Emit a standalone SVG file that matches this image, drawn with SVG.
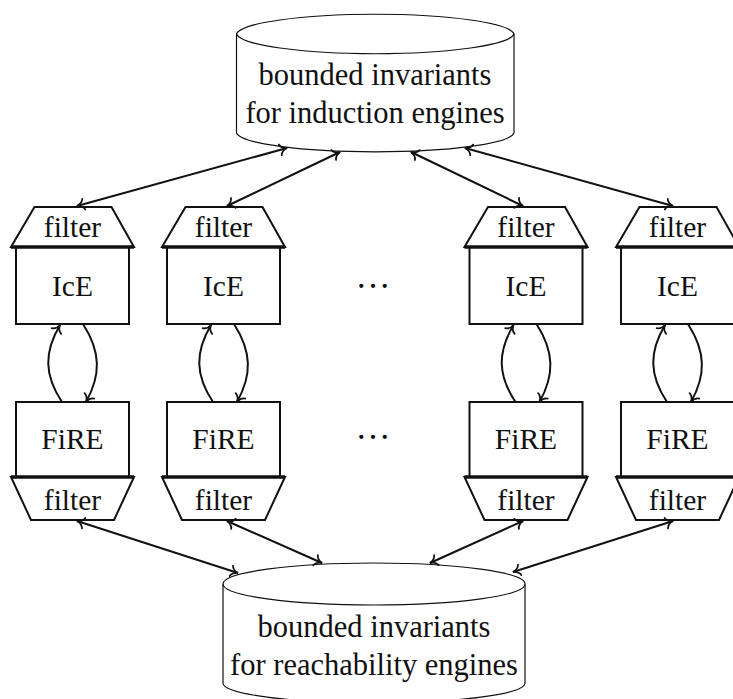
<svg xmlns="http://www.w3.org/2000/svg" width="733" height="699" viewBox="0 0 733 699">
<style>
.t{font-family:"Liberation Serif","Times New Roman",serif;fill:#111;text-anchor:middle}
.big{font-size:30.5px}
.mid{font-size:29.5px}
.cyl{fill:#fff;stroke:#111;stroke-width:1.2}
.box{fill:#fff;stroke:#111;stroke-width:2}
.thick{stroke:#111;stroke-width:3.6}
.c{fill:none;stroke:#111;stroke-width:2}
</style>
<defs>
<marker id="ah" markerUnits="userSpaceOnUse" markerWidth="16" markerHeight="16" viewBox="-9 -8 11 16" refX="0" refY="0" orient="auto-start-reverse">
<path d="M -7,-5.5 C -6,-2.2 -2.5,-0.5 0,0 C -2.5,0.5 -6,2.2 -7,5.5" fill="none" stroke="#111" stroke-width="1.8" stroke-linecap="round"/>
</marker>
</defs>
<rect width="733" height="699" fill="#fff"/>

<g id="top-store">
<path class="cyl" d="M 236.5,34 A 139,21 0 0 1 514,34 L 514,133 A 139,20 0 0 1 236.5,133 Z"/>
<path class="cyl" d="M 236.5,34 A 139,21 0 0 0 514,34" fill="none"/>
<text class="t big" x="375" y="85">bounded invariants</text>
<text class="t big" x="375" y="123">for induction engines</text>
</g>

<g id="bottom-store">
<path class="cyl" d="M 223,584 A 151,21 0 0 1 525,584 L 525,683 A 151,20 0 0 1 223,683 Z"/>
<path class="cyl" d="M 223,584 A 151,21 0 0 0 525,584" fill="none"/>
<text class="t big" x="374" y="637">bounded invariants</text>
<text class="t big" x="374" y="675">for reachability engines</text>
</g>

<g id="col1">
<g id="filter-top-1"><polygon class="box" points="34.5,207 111.5,207 134,247 11,247"/><text class="t mid" x="72.5" y="237">filter</text></g>
<g id="ice-1"><rect class="box" x="16" y="247" width="113" height="77"/><line class="thick" x1="11" y1="247" x2="134" y2="247"/><text class="t mid" x="72.5" y="296">IcE</text></g>
<g id="fire-1"><rect class="box" x="16" y="402" width="113" height="75"/><text class="t mid" x="72.5" y="449">FiRE</text></g>
<g id="filter-bot-1"><polygon class="box" points="11,477 134,477 114,520 31,520"/><line class="thick" x1="11" y1="477" x2="134" y2="477"/><text class="t mid" x="72.5" y="510">filter</text></g>
</g>

<g id="col2">
<g id="filter-top-2"><polygon class="box" points="185.5,207 262.5,207 285,247 162,247"/><text class="t mid" x="223.5" y="237">filter</text></g>
<g id="ice-2"><rect class="box" x="167" y="247" width="113" height="77"/><line class="thick" x1="162" y1="247" x2="285" y2="247"/><text class="t mid" x="223.5" y="296">IcE</text></g>
<g id="fire-2"><rect class="box" x="167" y="402" width="113" height="75"/><text class="t mid" x="223.5" y="449">FiRE</text></g>
<g id="filter-bot-2"><polygon class="box" points="162,477 285,477 265,520 182,520"/><line class="thick" x1="162" y1="477" x2="285" y2="477"/><text class="t mid" x="223.5" y="510">filter</text></g>
</g>

<g id="col3">
<g id="filter-top-3"><polygon class="box" points="488,207 565,207 587.5,247 464.5,247"/><text class="t mid" x="526" y="237">filter</text></g>
<g id="ice-3"><rect class="box" x="469.5" y="247" width="113" height="77"/><line class="thick" x1="464.5" y1="247" x2="587.5" y2="247"/><text class="t mid" x="526" y="296">IcE</text></g>
<g id="fire-3"><rect class="box" x="469.5" y="402" width="113" height="75"/><text class="t mid" x="526" y="449">FiRE</text></g>
<g id="filter-bot-3"><polygon class="box" points="464.5,477 587.5,477 567.5,520 484.5,520"/><line class="thick" x1="464.5" y1="477" x2="587.5" y2="477"/><text class="t mid" x="526" y="510">filter</text></g>
</g>

<g id="col4">
<g id="filter-top-4"><polygon class="box" points="639.5,207 716.5,207 739,247 616,247"/><text class="t mid" x="677.5" y="237">filter</text></g>
<g id="ice-4"><rect class="box" x="621" y="247" width="113" height="77"/><line class="thick" x1="616" y1="247" x2="739" y2="247"/><text class="t mid" x="677.5" y="296">IcE</text></g>
<g id="fire-4"><rect class="box" x="621" y="402" width="113" height="75"/><text class="t mid" x="677.5" y="449">FiRE</text></g>
<g id="filter-bot-4"><polygon class="box" points="616,477 739,477 719,520 636,520"/><line class="thick" x1="616" y1="477" x2="739" y2="477"/><text class="t mid" x="677.5" y="510">filter</text></g>
</g>

<g id="dots">
<text class="t" style="font-size:35px" x="373" y="288">…</text>
<text class="t" style="font-size:35px" x="373" y="439">…</text>
</g>

<g id="connectors" class="c">
<path class="c" d="M 77,206 L 287,148" marker-start="url(#ah)" marker-end="url(#ah)"/>
<path class="c" d="M 227,206 L 340,152" marker-start="url(#ah)" marker-end="url(#ah)"/>
<path class="c" d="M 523,206 L 411,152" marker-start="url(#ah)" marker-end="url(#ah)"/>
<path class="c" d="M 673,206 L 465,148" marker-start="url(#ah)" marker-end="url(#ah)"/>

<path class="c" d="M 77,521 L 238,573" marker-start="url(#ah)" marker-end="url(#ah)"/>
<path class="c" d="M 227,521 L 322,563" marker-start="url(#ah)" marker-end="url(#ah)"/>
<path class="c" d="M 523,521 L 430,563" marker-start="url(#ah)" marker-end="url(#ah)"/>
<path class="c" d="M 673,521 L 513,572" marker-start="url(#ah)" marker-end="url(#ah)"/>

<path class="c" d="M 62,402 C 44,375 44,352 60,325" marker-end="url(#ah)"/>
<path class="c" d="M 83,324 C 101,352 101,375 86,402" marker-end="url(#ah)"/>
<path class="c" d="M 213,402 C 195,375 195,352 211,325" marker-end="url(#ah)"/>
<path class="c" d="M 234,324 C 252,352 252,375 237,402" marker-end="url(#ah)"/>
<path class="c" d="M 515.5,402 C 497.5,375 497.5,352 513.5,325" marker-end="url(#ah)"/>
<path class="c" d="M 536.5,324 C 554.5,352 554.5,375 539.5,402" marker-end="url(#ah)"/>
<path class="c" d="M 667,402 C 649,375 649,352 665,325" marker-end="url(#ah)"/>
<path class="c" d="M 688,324 C 706,352 706,375 691,402" marker-end="url(#ah)"/>
</g>
</svg>
